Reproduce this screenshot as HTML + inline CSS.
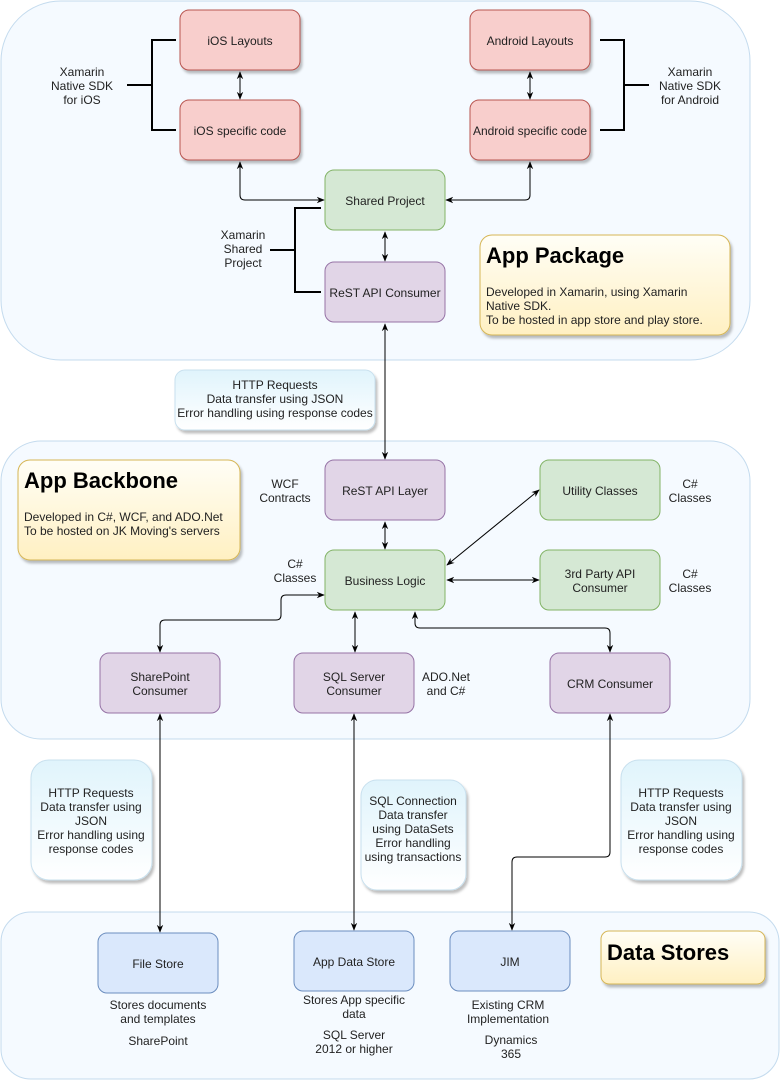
<!DOCTYPE html>
<html><head><meta charset="utf-8"><style>
html,body{margin:0;padding:0;background:#fff;}
svg{display:block;font-family:"Liberation Sans",Arial,sans-serif;}
text{font-size:12px;fill:#222;text-anchor:middle;}
</style></head><body>
<svg width="781" height="1081" viewBox="0 0 781 1081" xmlns="http://www.w3.org/2000/svg">
<defs>
<marker id="a" viewBox="0 0 10 10" refX="9" refY="5" markerWidth="8" markerHeight="8" orient="auto-start-reverse"><path d="M0,1 L10,5 L0,9 L3,5 Z" fill="#000"/></marker>
<linearGradient id="y" x1="0" y1="0" x2="0" y2="1"><stop offset="0" stop-color="#fffef6"/><stop offset="1" stop-color="#fff0c2"/></linearGradient>
<linearGradient id="b" x1="0" y1="0" x2="0" y2="1"><stop offset="0" stop-color="#e0f4fc"/><stop offset="1" stop-color="#ffffff"/></linearGradient>
<filter id="s" x="-10%" y="-10%" width="130%" height="130%"><feDropShadow dx="2" dy="3" stdDeviation="1.2" flood-color="#000" flood-opacity="0.25"/></filter>
</defs>

<!-- containers -->
<rect x="1" y="1" width="749" height="359" rx="60" fill="#f5faff" stroke="#c4dbee"/>
<rect x="1" y="441" width="749" height="298" rx="40" fill="#f5faff" stroke="#c4dbee"/>
<rect x="1" y="912" width="778" height="167" rx="30" fill="#f5faff" stroke="#c4dbee"/>

<g stroke-width="1">
<!-- red -->
<rect x="180" y="10" width="120" height="60" rx="9" fill="#f8cecc" stroke="#b85450" filter="url(#s)"/>
<rect x="180" y="100" width="120" height="60" rx="9" fill="#f8cecc" stroke="#b85450" filter="url(#s)"/>
<rect x="470" y="10" width="120" height="60" rx="9" fill="#f8cecc" stroke="#b85450" filter="url(#s)"/>
<rect x="470" y="100" width="120" height="60" rx="9" fill="#f8cecc" stroke="#b85450" filter="url(#s)"/>
<!-- green -->
<rect x="325" y="170" width="120" height="60" rx="9" fill="#d5e8d4" stroke="#82b366"/>
<rect x="540" y="460" width="120" height="60" rx="9" fill="#d5e8d4" stroke="#82b366"/>
<rect x="325" y="550" width="120" height="60" rx="9" fill="#d5e8d4" stroke="#82b366"/>
<rect x="540" y="550" width="120" height="60" rx="9" fill="#d5e8d4" stroke="#82b366"/>
<!-- purple -->
<rect x="325" y="262" width="120" height="60" rx="9" fill="#e1d5e7" stroke="#9673a6"/>
<rect x="325" y="460" width="120" height="60" rx="9" fill="#e1d5e7" stroke="#9673a6"/>
<rect x="100" y="653" width="120" height="60" rx="9" fill="#e1d5e7" stroke="#9673a6"/>
<rect x="294" y="653" width="120" height="60" rx="9" fill="#e1d5e7" stroke="#9673a6"/>
<rect x="550" y="653" width="120" height="60" rx="9" fill="#e1d5e7" stroke="#9673a6"/>
<!-- blue -->
<rect x="98" y="933" width="120" height="60" rx="9" fill="#dae8fc" stroke="#6c8ebf"/>
<rect x="294" y="931" width="120" height="60" rx="9" fill="#dae8fc" stroke="#6c8ebf"/>
<rect x="450" y="931" width="120" height="60" rx="9" fill="#dae8fc" stroke="#6c8ebf"/>
</g>

<!-- notes -->
<rect x="480" y="235" width="250" height="100" rx="12" fill="url(#y)" stroke="#d6b656" filter="url(#s)"/>
<rect x="18" y="460" width="222" height="100" rx="12" fill="url(#y)" stroke="#d6b656" filter="url(#s)"/>
<rect x="601" y="931" width="164" height="53" rx="8" fill="url(#y)" stroke="#d6b656" filter="url(#s)"/>
<rect x="175" y="370" width="200" height="60" rx="10" fill="url(#b)" stroke="#c8e0ee" filter="url(#s)"/>
<rect x="31" y="760" width="121" height="120" rx="18" fill="url(#b)" stroke="#c8e0ee" filter="url(#s)"/>
<rect x="361" y="780" width="105" height="110" rx="16" fill="url(#b)" stroke="#c8e0ee" filter="url(#s)"/>
<rect x="621" y="760" width="121" height="120" rx="18" fill="url(#b)" stroke="#c8e0ee" filter="url(#s)"/>

<!-- brackets -->
<g fill="none" stroke="#000" stroke-width="2">
<path d="M176,40 H152 V130 H176 M152,85 H127"/>
<path d="M600,40 H624 V130 H600 M624,85 H649"/>
<path d="M321,208 H295 V292 H321 M295,250 H270"/>
</g>

<!-- connectors -->
<g fill="none" stroke="#000" stroke-width="1" marker-start="url(#a)" marker-end="url(#a)">
<path d="M240,72 V99"/>
<path d="M530,72 V99"/>
<path d="M240,162 V195 Q240,200 245,200 H324"/>
<path d="M530,162 V195 Q530,200 525,200 H446"/>
<path d="M385,232 V261"/>
<path d="M385,324 V459" marker-start="url(#a)"/>
<path d="M385,522 V549"/>
<path d="M539,490 L447,565"/>
<path d="M447,580 H539"/>
<path d="M160,652 V625 Q160,620 165,620 H276 Q281,620 281,615 V600 Q281,595 286,595 H324"/>
<path d="M355,612 V652"/>
<path d="M415,612 V623 Q415,628 420,628 H605 Q610,628 610,633 V652"/>
<path d="M160,714 V932"/>
<path d="M354,714 V930"/>
<path d="M610,714 V852 Q610,857 605,857 H517 Q512,857 512,862 V930"/>
</g>

<!-- box labels -->
<text x="240" y="45">iOS Layouts</text>
<text x="240" y="135">iOS specific code</text>
<text x="530" y="45">Android Layouts</text>
<text x="530" y="135">Android specific code</text>
<text x="385" y="205">Shared Project</text>
<text x="385" y="297">ReST API Consumer</text>
<text x="385" y="495">ReST API Layer</text>
<text x="600" y="495">Utility Classes</text>
<text x="385" y="585">Business Logic</text>
<text x="600" y="578">3rd Party API</text><text x="600" y="592">Consumer</text>
<text x="160" y="681">SharePoint</text><text x="160" y="695">Consumer</text>
<text x="354" y="681">SQL Server</text><text x="354" y="695">Consumer</text>
<text x="610" y="688">CRM Consumer</text>
<text x="158" y="968">File Store</text>
<text x="354" y="966">App Data Store</text>
<text x="510" y="966">JIM</text>

<!-- side labels -->
<text x="82" y="76">Xamarin</text><text x="82" y="90">Native SDK</text><text x="82" y="104">for iOS</text>
<text x="690" y="76">Xamarin</text><text x="690" y="90">Native SDK</text><text x="690" y="104">for Android</text>
<text x="243" y="239">Xamarin</text><text x="243" y="253">Shared</text><text x="243" y="267">Project</text>
<text x="285" y="488">WCF</text><text x="285" y="502">Contracts</text>
<text x="295" y="568">C#</text><text x="295" y="582">Classes</text>
<text x="690" y="488">C#</text><text x="690" y="502">Classes</text>
<text x="690" y="578">C#</text><text x="690" y="592">Classes</text>
<text x="446" y="681">ADO.Net</text><text x="446" y="695">and C#</text>
<text x="158" y="1009">Stores documents</text><text x="158" y="1023">and templates</text>
<text x="158" y="1045">SharePoint</text>
<text x="354" y="1004">Stores App specific</text><text x="354" y="1018">data</text>
<text x="354" y="1039">SQL Server</text><text x="354" y="1053">2012 or higher</text>
<text x="508" y="1009">Existing CRM</text><text x="508" y="1023">Implementation</text>
<text x="511" y="1044">Dynamics</text><text x="511" y="1058">365</text>

<!-- note text -->
<text x="275" y="389">HTTP Requests</text><text x="275" y="403">Data transfer using JSON</text><text x="275" y="417">Error handling using response codes</text>
<text x="91" y="797">HTTP Requests</text><text x="91" y="811">Data transfer using</text><text x="91" y="825">JSON</text><text x="91" y="839">Error handling using</text><text x="91" y="853">response codes</text>
<text x="681" y="797">HTTP Requests</text><text x="681" y="811">Data transfer using</text><text x="681" y="825">JSON</text><text x="681" y="839">Error handling using</text><text x="681" y="853">response codes</text>
<text x="413" y="805">SQL Connection</text><text x="413" y="819">Data transfer</text><text x="413" y="833">using DataSets</text><text x="413" y="847">Error handling</text><text x="413" y="861">using transactions</text>

<text x="486" y="263" style="font-size:22px;font-weight:bold;text-anchor:start;fill:#000">App Package</text>
<text x="486" y="296" style="text-anchor:start">Developed in Xamarin, using Xamarin</text>
<text x="486" y="310" style="text-anchor:start">Native SDK.</text>
<text x="486" y="324" style="text-anchor:start">To be hosted in app store and play store.</text>
<text x="24" y="488" style="font-size:22px;font-weight:bold;text-anchor:start;fill:#000">App Backbone</text>
<text x="24" y="521" style="text-anchor:start">Developed in C#, WCF, and ADO.Net</text>
<text x="24" y="535" style="text-anchor:start">To be hosted on JK Moving's servers</text>
<text x="607" y="960" style="font-size:22px;font-weight:bold;text-anchor:start;fill:#000">Data Stores</text>
</svg>
</body></html>
